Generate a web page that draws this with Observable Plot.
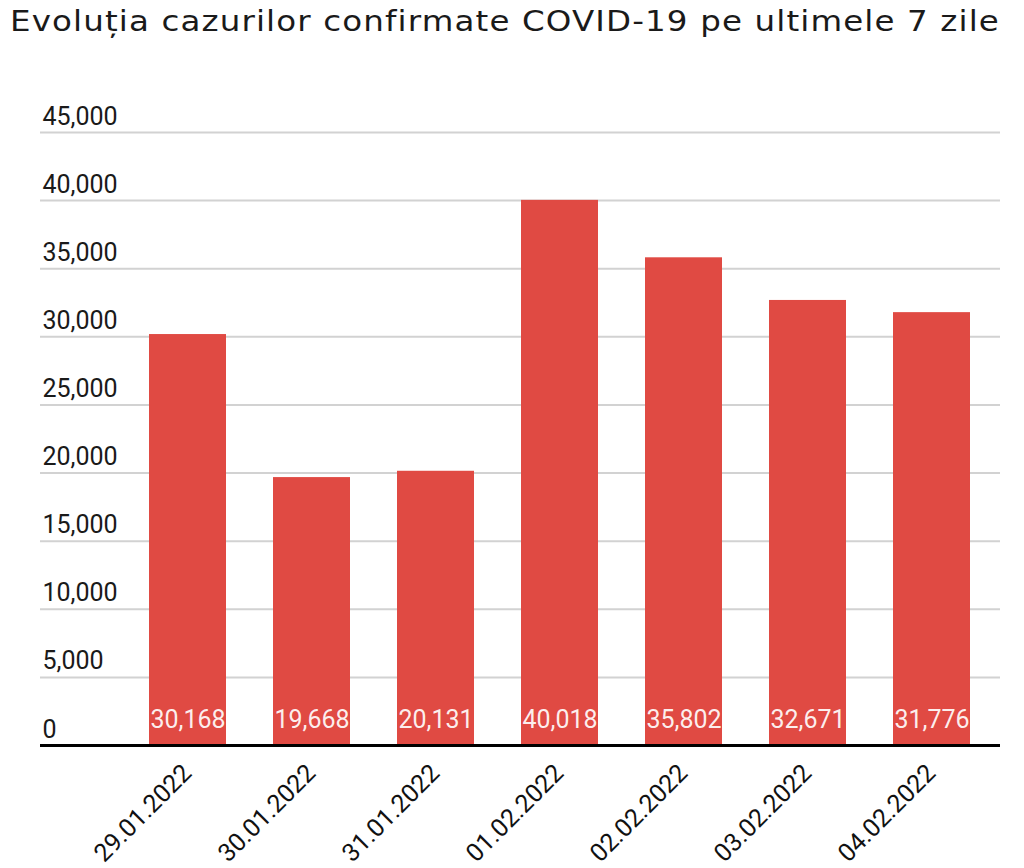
<!DOCTYPE html>
<html>
<head>
<meta charset="utf-8">
<script src="https://cdn.jsdelivr.net/npm/d3@7"></script>
<script src="https://cdn.jsdelivr.net/npm/@observablehq/plot@0.6"></script>
<style>
  html, body { margin: 0; padding: 0; background: #fff; }
  #wrap { position: relative; width: 1024px; height: 868px; overflow: hidden; }
  #title { position: absolute; left: 10px; top: 7px; font-family: "DejaVu Sans", Inter, sans-serif; font-size: 29px; line-height: 1; color: #1a1a1a; white-space: nowrap; letter-spacing: 1px; transform-origin: 0 0; }
  #chart { position: absolute; left: 0; top: 60px; }
</style>
</head>
<body>
<div id="wrap">
  <div id="title">Evoluția cazurilor confirmate COVID-19 pe ultimele 7 zile</div>
  <div id="chart"></div>
</div>
<script>
const dates = ["29.01.2022", "30.01.2022", "31.01.2022", "01.02.2022", "02.02.2022", "03.02.2022", "04.02.2022"];
const cases = [30168, 19668, 20131, 40018, 35802, 32671, 31776];
const yTicks = [0, 5000, 10000, 15000, 20000, 25000, 30000, 35000, 40000, 45000];

const data = dates.map((d, i) => ({date: d, cases: cases[i]}));
const fmt = d3.format(",");

// widen the title so it spans the same width as in the reference (~990px)
const title = document.getElementById("title");
const titleWidth = title.getBoundingClientRect().width;
title.style.transform = "scaleX(" + (990 / titleWidth) + ")";

const chart = Plot.plot({
  width: 1024,
  height: 808,
  marginTop: 72,
  marginBottom: 123,
  marginLeft: 40,
  marginRight: 24,
  style: {fontFamily: "Roboto, sans-serif", fontSize: "25px", color: "#222", background: "transparent"},
  x: {domain: dates, paddingInner: 0.38, paddingOuter: 0.555, align: 0.784, axis: null, label: null},
  y: {domain: [0, 45000], label: null},
  marks: [
    Plot.ruleY(yTicks.slice(1), {stroke: "#d2d2d2", strokeWidth: 2}),
    Plot.barY(data, {x: "date", y: "cases", fill: "#e04a43"}),
    Plot.ruleY([0], {stroke: "#000", strokeWidth: 3}),
    Plot.axisY({ticks: yTicks, tickSize: 0, tickPadding: 0, tickFormat: fmt, textAnchor: "start", dx: 2, dy: -16, fontSize: 25, fill: "#1a1a1a", label: null}),
    Plot.text(data, {x: "date", frameAnchor: "bottom", text: d => fmt(d.cases), fill: "#fff", fillOpacity: 0.92, dy: -18, fontSize: 25}),
    Plot.text(dates, {x: d => d, frameAnchor: "bottom", text: d => d, rotate: -45, textAnchor: "end", dx: 5, dy: 29, fill: "#111", fontSize: 25})
  ]
});
document.getElementById("chart").appendChild(chart);
</script>
</body>
</html>
